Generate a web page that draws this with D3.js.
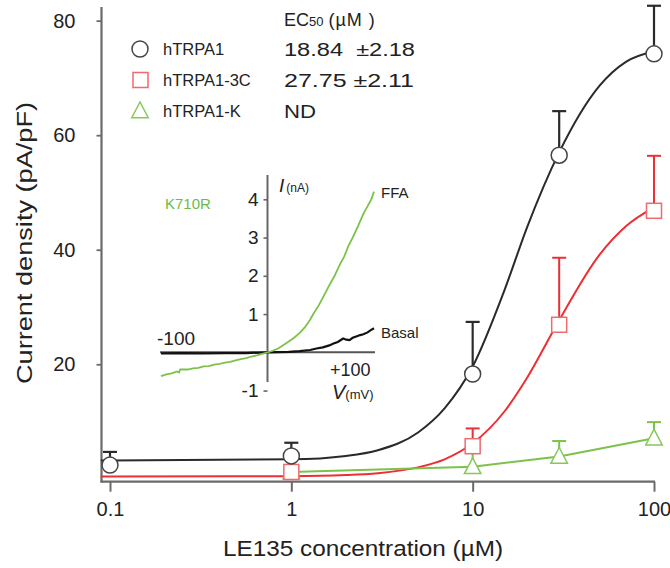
<!DOCTYPE html>
<html><head><meta charset="utf-8">
<script src="https://cdn.jsdelivr.net/npm/d3@7"></script>
<style>
html,body{margin:0;padding:0;background:#fff;}
svg{display:block;font-family:"Liberation Sans",Arial,sans-serif;}
</style></head>
<body><svg id="c" width="670" height="568"></svg>
<script>
// ---------- data ----------
const xTicks = [0.1, 1, 10, 100];
const xTickLabels = ["0.1", "1", "10", "100"];
const yTicks = [20, 40, 60, 80];

const wtConc = [0.1, 1, 10, 30, 100];
const wtMean = [2.4, 4.0, 18.3, 56.5, 74.2];
const wtSem  = [2.3, 2.3, 9.1, 7.7, 8.4];

const c3Conc = [1, 10, 30, 100];
const c3Mean = [1.2, 5.7, 26.9, 46.8];
const c3Sem  = [0, 3.1, 11.7, 9.6];

const kConc = [1, 10, 30, 100];
const kMean = [1.2, 2.1, 3.9, 7.1];
const kSem  = [0.4, 2.4, 2.7, 2.8];

// fitted curves
const fitConc = [0.089, 0.1, 1, 2, 3, 5, 7, 10, 15, 20, 30, 50, 70, 100];
const wtFit   = [3.2, 3.2, 3.4, 4.0, 5.0, 8.1, 12.3, 19.6, 33.0, 44.0, 57.0, 68.6, 72.8, 74.6];
const c3Fit   = [0.4, 0.4, 0.47, 0.66, 0.98, 2.0, 3.4, 6.2, 11.8, 17.7, 27.7, 39.1, 44.1, 47.4];

const legendNames = ["hTRPA1", "hTRPA1-3C", "hTRPA1-K"];
const legendEC50  = ["18.84  \u00B12.18", "27.75 \u00B12.11", "ND"];

// inset I-V traces (mV, nA)
const ffaV = [-100,-95,-90,-85,-83,-82,-75,-70,-65,-60,-55,-50,-45,-40,-35,-30,-25,-20,-15,-10,-5,0,5,10,15,20,25,30,35,40,43,48,53,58,63,68,72,76,80,85,90,94,97.5,100];
const ffaI = [-0.62,-0.58,-0.55,-0.5,-0.53,-0.45,-0.45,-0.42,-0.41,-0.37,-0.36,-0.32,-0.30,-0.27,-0.25,-0.21,-0.18,-0.15,-0.11,-0.08,-0.04,0,0.04,0.1,0.19,0.28,0.38,0.5,0.65,0.85,1.0,1.22,1.48,1.75,2.0,2.3,2.5,2.78,3.0,3.3,3.62,3.82,4.0,4.2];
const basalV = [-100,-80,-60,-40,-20,0,20,30,40,46,52,58,62,66,71,74,77,80,84,87,90,94,97,100];
const basalI = [-0.03,-0.02,-0.03,-0.02,-0.02,0,0.01,0.03,0.06,0.1,0.13,0.18,0.23,0.27,0.36,0.33,0.32,0.38,0.42,0.45,0.47,0.52,0.58,0.63];
const insetYTicks = [-1, 1, 2, 3, 4];

// ---------- chart ----------
const svg = d3.select("#c");
const x = d3.scaleLog().domain([0.1, 100]).range([110, 654]);
const y = d3.scaleLinear().domain([-0.5, 82.4]).range([481.7, 6.9]);

const axisCol = "#6a6a6a";
const blk = "#2a2a2a", red = "#ec2f34", grn = "#7cc24a";
const redMk = "#ee6a6e", grnMk = "#86c95a";
const FONT = "'Liberation Sans',Arial,sans-serif";

// axes lines
svg.append("line").attr("x1",101.5).attr("x2",101.5).attr("y1",6.9).attr("y2",482.5)
  .attr("stroke",axisCol).attr("stroke-width",2.2);
svg.append("line").attr("x1",100.5).attr("x2",655).attr("y1",481.7).attr("y2",481.7)
  .attr("stroke",axisCol).attr("stroke-width",2.2);

const yAxis = svg.append("g").attr("transform","translate(101.5,0)")
  .call(d3.axisLeft(y).tickValues(yTicks).tickSize(5).tickFormat(d3.format("d")));
yAxis.select(".domain").remove();
yAxis.selectAll("line").attr("stroke",axisCol).attr("stroke-width",1.8);
yAxis.selectAll("text").attr("font-size",20).attr("fill","#222").attr("x",-26).attr("font-family",FONT);

const xAxis = svg.append("g").attr("transform","translate(0,481.7)")
  .call(d3.axisBottom(x).tickValues(xTicks).tickSize(10).tickFormat((d,i)=>xTickLabels[i]));
xAxis.select(".domain").remove();
xAxis.selectAll("line").attr("stroke",axisCol).attr("stroke-width",2);
xAxis.selectAll("text").attr("font-size",20).attr("fill","#222").attr("y",20).attr("font-family",FONT);

svg.append("text").attr("x",363).attr("y",556).attr("text-anchor","middle")
  .attr("font-size",22).attr("fill","#222").attr("textLength",280).attr("lengthAdjust","spacingAndGlyphs")
  .text("LE135 concentration (\u00B5M)");
svg.append("text").attr("transform","translate(32,243) rotate(-90)").attr("text-anchor","middle")
  .attr("font-size",22).attr("fill","#222").attr("textLength",282).attr("lengthAdjust","spacingAndGlyphs")
  .text("Current density (pA/pF)");

// fit curves
const line = d3.line().x(d=>x(d[0])).y(d=>y(d[1])).curve(d3.curveMonotoneX);
svg.append("path").attr("d", line(fitConc.map((c,i)=>[c,c3Fit[i]])))
  .attr("fill","none").attr("stroke",red).attr("stroke-width",2);
svg.append("path").attr("d", line(fitConc.map((c,i)=>[c,wtFit[i]])))
  .attr("fill","none").attr("stroke",blk).attr("stroke-width",2);
svg.append("path").attr("d", d3.line().x(d=>x(d[0])).y(d=>y(d[1]))(kConc.map((c,i)=>[c,kMean[i]])))
  .attr("fill","none").attr("stroke",grn).attr("stroke-width",2);

// error bars
function errBars(conc, mean, sem, col, w){
  const g = svg.append("g").attr("stroke",col).attr("stroke-width",w);
  conc.forEach((c,i)=>{
    if (sem[i] <= 0) return;
    const cx = x(c), top = y(mean[i]+sem[i]);
    g.append("line").attr("x1",cx).attr("x2",cx).attr("y1",y(mean[i])).attr("y2",top);
    g.append("line").attr("x1",cx-7).attr("x2",cx+7).attr("y1",top).attr("y2",top);
  });
}
errBars(kConc, kMean, kSem, grn, 2);
errBars(c3Conc, c3Mean, c3Sem, red, 2);
errBars(wtConc, wtMean, wtSem, blk, 2.2);

// markers
const triPath = s => `M0,${-s*0.6}L${s*0.55},${s*0.45}L${-s*0.55},${s*0.45}Z`;
kConc.forEach((c,i)=>{
  svg.append("path").attr("d",triPath(15)).attr("transform",`translate(${x(c)},${y(kMean[i])})`)
    .attr("fill","#fff").attr("stroke",grnMk).attr("stroke-width",1.5);
});
c3Conc.forEach((c,i)=>{
  svg.append("rect").attr("x",x(c)-7.5).attr("y",y(c3Mean[i])-7.5).attr("width",15).attr("height",15)
    .attr("fill","#fff").attr("stroke",redMk).attr("stroke-width",1.5);
});
wtConc.forEach((c,i)=>{
  svg.append("circle").attr("cx",x(c)).attr("cy",y(wtMean[i])).attr("r",8)
    .attr("fill","#fff").attr("stroke","#444").attr("stroke-width",1.5);
});

// legend
const legY = [49, 80, 111];
const valLen = [131, 130, 32];
svg.append("circle").attr("cx",140).attr("cy",legY[0]).attr("r",8)
  .attr("fill","#fff").attr("stroke","#444").attr("stroke-width",1.5);
svg.append("rect").attr("x",133).attr("y",legY[1]-7.5).attr("width",15).attr("height",15)
  .attr("fill","#fff").attr("stroke",redMk).attr("stroke-width",1.5);
svg.append("path").attr("d",triPath(15)).attr("transform",`translate(140,${legY[2]})`)
  .attr("fill","#fff").attr("stroke",grnMk).attr("stroke-width",1.5);
legendNames.forEach((n,i)=>{
  svg.append("text").attr("x",163).attr("y",legY[i]+6).attr("font-size",16.5).attr("fill","#222").text(n);
  svg.append("text").attr("x",284).attr("y",legY[i]+6.5).attr("font-size",18).attr("xml:space","preserve")
    .style("white-space","pre")
    .attr("textLength",valLen[i]).attr("lengthAdjust","spacingAndGlyphs")
    .attr("fill","#222").text(legendEC50[i]);
});
const ec = svg.append("text").attr("x",284).attr("y",26).attr("fill","#222").attr("font-size",18);
ec.append("tspan").text("EC");
ec.append("tspan").attr("font-size",13).text("50");
ec.append("tspan").attr("dx",5).attr("letter-spacing",1).text("(\u00B5M )");

// ---------- inset ----------
const vx = d3.scaleLinear().domain([-100, 100]).range([161, 374]);
const iy = d3.scaleLinear().domain([0, 4]).range([352.3, 199.3]);
svg.append("line").attr("x1",vx(0)).attr("x2",vx(0)).attr("y1",175).attr("y2",382)
  .attr("stroke","#666").attr("stroke-width",2);
svg.append("line").attr("x1",160).attr("x2",375).attr("y1",iy(0)).attr("y2",iy(0))
  .attr("stroke","#555").attr("stroke-width",2);
const ia = svg.append("g").attr("transform",`translate(${vx(0)},0)`)
  .call(d3.axisLeft(iy).tickValues(insetYTicks).tickSize(4).tickFormat(d => String(d)));
ia.select(".domain").remove();
ia.selectAll("line").attr("stroke","#666").attr("stroke-width",1.6);
ia.selectAll("text").attr("font-size",19).attr("fill","#222").attr("x",-9).attr("font-family",FONT);

const tl = d3.line().x(d=>vx(d[0])).y(d=>iy(d[1]));
svg.append("path").attr("d", tl(basalV.map((v,i)=>[v,basalI[i]])))
  .attr("fill","none").attr("stroke","#111").attr("stroke-width",2.2);
svg.append("path").attr("d", tl(ffaV.map((v,i)=>[v,ffaI[i]])))
  .attr("fill","none").attr("stroke","#7cc24a").attr("stroke-width",1.8);

svg.append("text").attr("x",165).attr("y",209).attr("font-size",15).attr("fill","#6dbb45").text("K710R");
svg.append("text").attr("x",381).attr("y",198).attr("font-size",15).attr("fill","#222").text("FFA");
svg.append("text").attr("x",381).attr("y",338).attr("font-size",15).attr("fill","#222").text("Basal");
svg.append("text").attr("x",157).attr("y",345).attr("font-size",19).attr("fill","#222").text("-100");
svg.append("text").attr("x",330).attr("y",376).attr("font-size",18).attr("fill","#222").text("+100");
const vt = svg.append("text").attr("x",332).attr("y",399).attr("fill","#222");
vt.append("tspan").attr("font-size",20).attr("font-style","italic").text("V");
vt.append("tspan").attr("font-size",13).text("(mV)");
const it = svg.append("text").attr("x",279).attr("y",192).attr("fill","#222");
it.append("tspan").attr("font-size",19).attr("font-style","italic").text("I");
it.append("tspan").attr("font-size",12).attr("dx",2).text("(nA)");
</script></body></html>
